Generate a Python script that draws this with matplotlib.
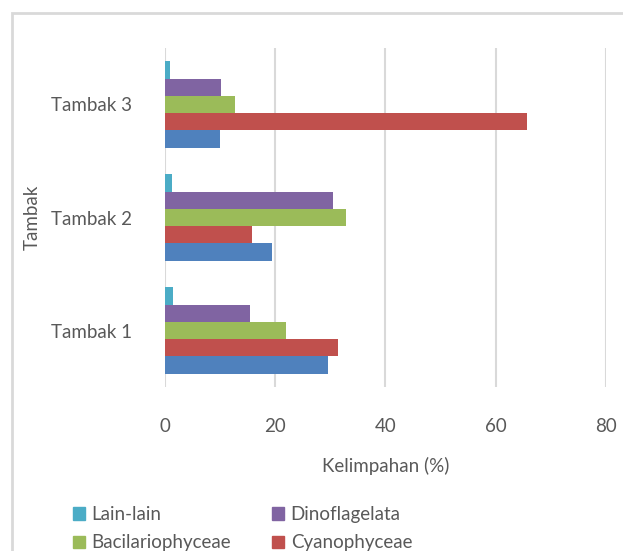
import matplotlib.pyplot as plt
import numpy as np
from matplotlib.patches import Rectangle, Patch

plt.rcParams["font.family"] = ["Lato", "DejaVu Sans"]
plt.rcParams["font.size"] = 13.5
text_col = "#595959"

# data (percent)
tambak = ["Tambak 1", "Tambak 2", "Tambak 3"]
chlorophyceae = [29.6, 19.4, 10.0]
cyanophyceae = [31.3, 15.8, 65.6]
bacilariophyceae = [21.9, 32.8, 12.7]
dinoflagelata = [15.4, 30.4, 10.2]
lain_lain = [1.4, 1.3, 1.0]

series = [
    ("Chlorophyceae", chlorophyceae, "#4F81BD"),
    ("Cyanophyceae", cyanophyceae, "#C0504D"),
    ("Bacilariophyceae", bacilariophyceae, "#9BBB59"),
    ("Dinoflagelata", dinoflagelata, "#8064A2"),
    ("Lain-lain", lain_lain, "#4BACC6"),
]

fig = plt.figure(figsize=(6.23, 5.51), dpi=100)
ax = fig.add_axes([0.2648, 0.2976, 0.7079, 0.6153])

# outer chart border (runs off the right/bottom edge like the original)
fig.patches.append(Rectangle((12 / 623, -0.1), 1.2, 1 - 13 / 551 + 0.1,
                             transform=fig.transFigure, fill=False,
                             edgecolor="#D9D9D9", linewidth=2.0))

y = np.arange(len(tambak))
h = 0.153
handles = {}
for i, (name, vals, col) in enumerate(series):
    ax.barh(y + (i - 2) * h, vals, height=h, color=col, zorder=3)
    handles[name] = Patch(color=col)

ax.set_xlim(0, 80)
ax.set_ylim(-0.5, 2.5)
ax.set_xticks(range(0, 81, 20))
ax.set_yticks(y)
ax.set_yticklabels(tambak)
ax.grid(axis="x", color="#D9D9D9", linewidth=1.5, zorder=0)
for s in ["top", "right", "bottom", "left"]:
    ax.spines[s].set_visible(False)
ax.tick_params(axis="both", length=0, colors=text_col, labelsize=13.5)
ax.tick_params(axis="x", pad=22)
ax.tick_params(axis="y", pad=24)

ax.set_xlabel("Kelimpahan (%)", color=text_col, fontsize=13.5, labelpad=16)
ax.set_ylabel("Tambak", color=text_col, fontsize=13.5)
ax.yaxis.set_label_coords(-0.282, 0.5)

# the third legend row (Chlorophyceae) is cut off in the original, so only four show
order = ["Lain-lain", "Bacilariophyceae", "Dinoflagelata", "Cyanophyceae"]
fig.legend([handles[n] for n in order], order, ncol=2, loc="upper left",
           bbox_to_anchor=(0.105, 0.095), frameon=False, fontsize=13.5,
           handlelength=0.65, handleheight=0.65, handletextpad=0.35,
           columnspacing=2.17, labelspacing=0.6, labelcolor=text_col,
           borderaxespad=0)

plt.savefig("out.png", dpi=100)
